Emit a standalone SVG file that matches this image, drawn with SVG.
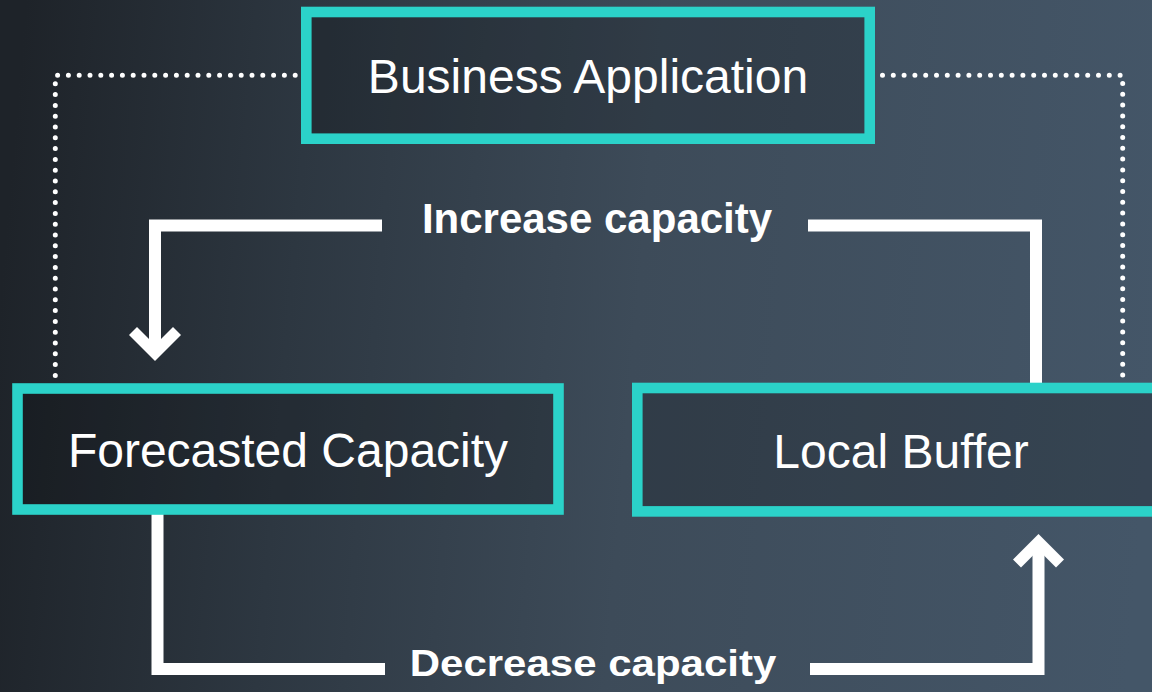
<svg xmlns="http://www.w3.org/2000/svg" width="1152" height="692" viewBox="0 0 1152 692">
  <defs>
    <linearGradient id="bg" x1="0" y1="300" x2="1152" y2="400" gradientUnits="userSpaceOnUse">
      <stop offset="0" stop-color="#1e2329"/>
      <stop offset="0.25" stop-color="#2d3741"/>
      <stop offset="0.55" stop-color="#3d4b59"/>
      <stop offset="1" stop-color="#445668"/>
    </linearGradient>
    <style>
      .node rect { fill: #000; fill-opacity: 0.2; stroke: #2bd2c9; stroke-width: 10.6; }
      .node text { font-family: "Liberation Sans", Arial, sans-serif; font-size: 48px; fill: #ffffff; text-anchor: middle; }
      .flow { fill: none; stroke: #ffffff; stroke-width: 12; stroke-linejoin: miter; stroke-linecap: butt; }
      .head { fill: #ffffff; }
      .dots { fill: none; stroke: #ffffff; stroke-width: 5; stroke-linecap: round; stroke-dasharray: 0 10.8; }
      .label { font-family: "Liberation Sans", Arial, sans-serif; font-size: 42px; font-weight: bold; fill: #ffffff; text-anchor: middle; }
    </style>
  </defs>
  <rect x="0" y="0" width="1152" height="692" fill="url(#bg)"/>

  <g id="connectors">
    <path class="dots" d="M 306 75.3 H 55.3 V 377"/>
    <path class="dots" d="M 871.7 75.3 H 1122.7 V 377"/>
    <path class="flow" d="M 382 225.5 H 155 V 345"/>
    <polygon class="head" points="155,361 129,335 137,327 155,345 173,327 181,335"/>
    <path class="flow" d="M 808 225.5 H 1036 V 387"/>
    <path class="flow" d="M 157.5 508 V 669 H 385"/>
    <path class="flow" d="M 810 669 H 1038.5 V 548"/>
    <polygon class="head" points="1038.5,534 1064,559.5 1056,567.5 1038.5,550 1021,567.5 1013,559.5"/>
    <text class="label" x="597" y="232.5">Increase capacity</text>
    <text class="label" transform="translate(593,676) scale(1,0.88)" x="0" y="0">Decrease capacity</text>
  </g>

  <g id="business-application" class="node">
    <rect x="306.3" y="12" width="563.4" height="126.7"/>
    <text x="588" y="93">Business Application</text>
  </g>

  <g id="forecasted-capacity" class="node">
    <rect x="17.5" y="388.5" width="541" height="121"/>
    <text x="288" y="467">Forecasted Capacity</text>
  </g>

  <g id="local-buffer" class="node">
    <rect x="637.3" y="388" width="527.4" height="123.4"/>
    <text x="901" y="468">Local Buffer</text>
  </g>
</svg>
